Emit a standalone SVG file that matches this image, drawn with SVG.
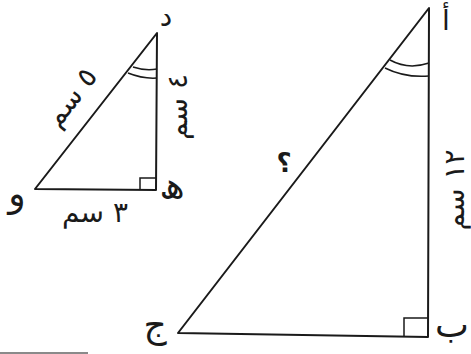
<svg xmlns="http://www.w3.org/2000/svg" width="471" height="354" viewBox="0 0 471 354">
<style>
.ln{fill:none;stroke:#1a1a1a;stroke-width:2;stroke-linejoin:round;stroke-linecap:round}
.th{fill:none;stroke:#1a1a1a;stroke-width:1.5}
.lb{font-family:"DejaVu Sans",sans-serif;font-size:36px;fill:#1a1a1a;text-anchor:middle}
.tp{font-size:28px}
.sl{font-family:"DejaVu Sans",sans-serif;font-size:28px;fill:#1a1a1a;text-anchor:middle}
</style>
<rect width="471" height="354" fill="#ffffff"/>
<g id="small-triangle">
<path class="ln" d="M157,33 L156,190 L35,189 Z"/>
<path class="th" d="M140,190 V178 H156"/>
<path class="th" d="M133,67 Q145,71 157,69"/>
<path class="th" d="M128,73 Q143,79 157,78"/>
<text class="lb tp" x="166" y="26">د</text>
<text class="lb" x="172" y="198">ھ</text>
<text class="lb" x="17" y="206">و</text>
<text class="sl" x="95" y="222">٣ سم</text>
<text class="sl" transform="translate(179,107) rotate(-90)" y="8">٤ سم</text>
<text class="sl" transform="translate(72,98) rotate(-52)" y="8">٥ سم</text>
</g>
<g id="large-triangle">
<path class="ln" d="M429,8 L428,337 L178,333 Z"/>
<path class="th" d="M404,337 V318 H428"/>
<path class="th" d="M390,60 Q408,70 429,63"/>
<path class="th" d="M385,68 Q405,78 429,76"/>
<text class="lb tp" x="446" y="30">أ</text>
<text class="lb" x="452" y="337">ب</text>
<text class="lb" x="155" y="337">ج</text>
<text class="lb" x="284" y="172" style="font-size:26px;font-weight:bold">؟</text>
<text class="sl" transform="translate(456,190) rotate(-90)" y="8">١٢ سم</text>
</g>
<rect x="0" y="352" width="88" height="2" fill="#8a8a8a"/>
</svg>
